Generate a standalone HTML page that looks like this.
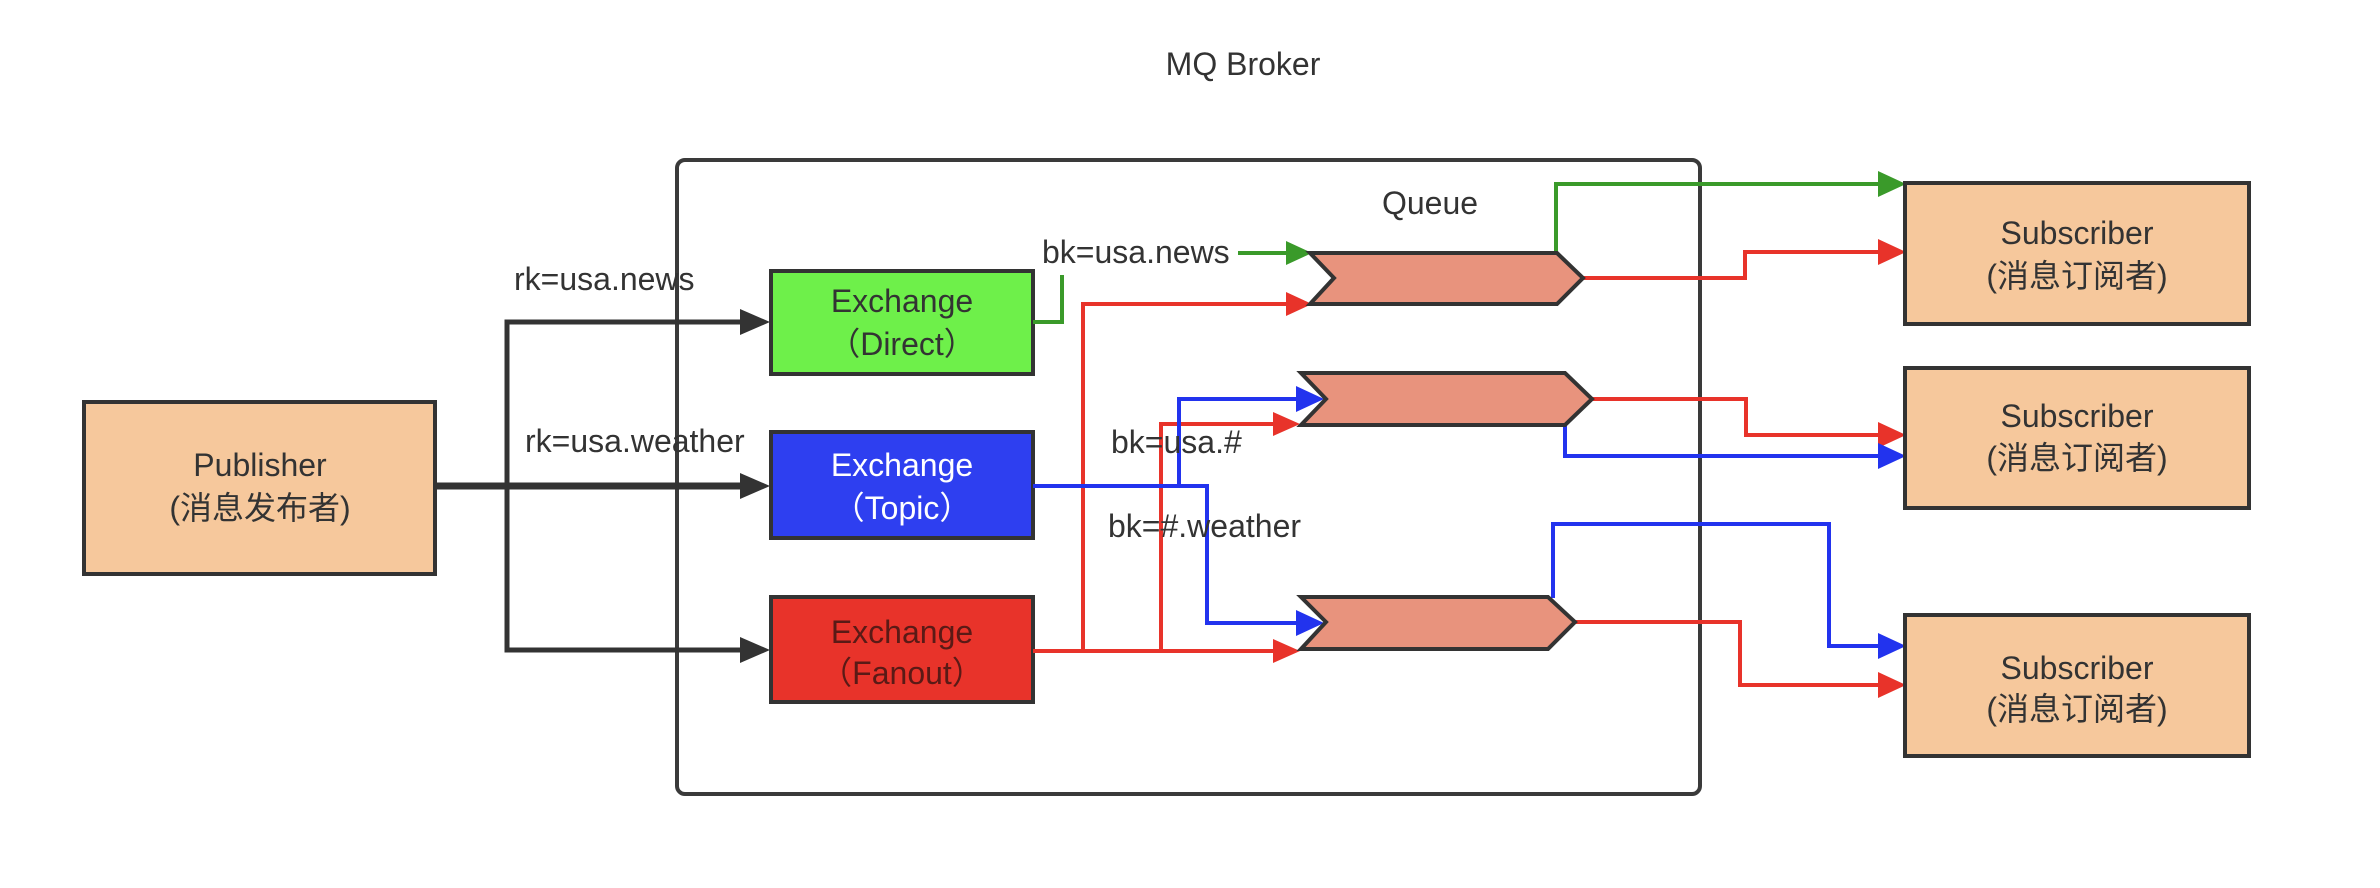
<!DOCTYPE html>
<html><head><meta charset="utf-8"><style>
html,body{margin:0;padding:0;background:#fff;}
svg{display:block;}
text{font-family:"Liberation Sans","Noto Sans CJK SC",sans-serif;}
</style></head><body>
<svg width="2380" height="888" viewBox="0 0 2380 888" xmlns="http://www.w3.org/2000/svg">
<text x="1243" y="75" font-size="32" fill="#333" text-anchor="middle">MQ Broker</text>
<rect x="677" y="160" width="1023" height="634" rx="8" fill="none" stroke="#3a3a3a" stroke-width="4"/>
<text x="1430" y="214" font-size="32" fill="#333" text-anchor="middle">Queue</text>

<!-- black connectors -->
<g stroke="#333" stroke-width="5" fill="none">
<path d="M435,486 H740" stroke-width="7"/>
<path d="M507,486 V322 H740"/>
<path d="M507,486 V650 H740"/>
</g>
<g fill="#333">
<path d="M740,309 L770,322 L740,335 z"/>
<path d="M740,473 L770,486 L740,499 z"/>
<path d="M740,637 L770,650 L740,663 z"/>
</g>
<text x="514" y="290" font-size="32" fill="#333">rk=usa.news</text>
<text x="525" y="452" font-size="32" fill="#333">rk=usa.weather</text>

<!-- publisher -->
<rect x="84" y="402" width="351" height="172" fill="#f6c89c" stroke="#333" stroke-width="4"/>
<text x="260" y="476" font-size="32" fill="#333" text-anchor="middle">Publisher</text>
<text x="260" y="519" font-size="32" fill="#333" text-anchor="middle">(消息发布者)</text>

<!-- exchanges -->
<rect x="771" y="271" width="262" height="103" fill="#6ef04a" stroke="#333" stroke-width="4"/>
<text x="902" y="312" font-size="32" fill="#333" text-anchor="middle">Exchange</text>
<text x="902" y="355" font-size="32" fill="#333" text-anchor="middle">（Direct）</text>
<rect x="771" y="432" width="262" height="106" fill="#2e3ff0" stroke="#333" stroke-width="4"/>
<text x="902" y="476" font-size="32" fill="#fff" text-anchor="middle">Exchange</text>
<text x="902" y="519" font-size="32" fill="#fff" text-anchor="middle">（Topic）</text>
<rect x="771" y="597" width="262" height="105" fill="#e8332a" stroke="#333" stroke-width="4"/>
<text x="902" y="643" font-size="32" fill="#5a1a16" text-anchor="middle">Exchange</text>
<text x="902" y="684" font-size="32" fill="#5a1a16" text-anchor="middle">（Fanout）</text>

<!-- green in -->
<path d="M1033,322 H1062 V275" stroke="#3a9a2a" stroke-width="4" fill="none"/>
<path d="M1238,253 H1288" stroke="#3a9a2a" stroke-width="4" fill="none"/>
<path d="M1286,241 L1312,253 L1286,265 z" fill="#3a9a2a"/>
<text x="1042" y="263" font-size="32" fill="#333">bk=usa.news</text>

<!-- red in -->
<g stroke="#e8332a" stroke-width="4" fill="none">
<path d="M1033,651 H1275"/>
<path d="M1083,651 V304 H1288"/>
<path d="M1161,651 V424 H1275"/>
</g>
<g fill="#e8332a">
<path d="M1286,292 L1312,304 L1286,316 z"/>
<path d="M1273,412 L1300,424 L1273,436 z"/>
<path d="M1273,639 L1300,651 L1273,663 z"/>
</g>

<!-- blue in -->
<g stroke="#2233ee" stroke-width="4" fill="none">
<path d="M1033,486 H1207 V623 H1300"/>
<path d="M1179,486 V399 H1300"/>
</g>
<g fill="#2233ee">
<path d="M1296,386 L1324,399 L1296,412 z"/>
<path d="M1296,610 L1324,623 L1296,636 z"/>
</g>
<text x="1111" y="453" font-size="32" fill="#333">bk=usa.#</text>
<text x="1108" y="537" font-size="32" fill="#333">bk=#.weather</text>

<!-- outputs -->
<g stroke="#3a9a2a" stroke-width="4" fill="none"><path d="M1556,253 V184 H1880"/></g>
<path d="M1878,171 L1906,184 L1878,197 z" fill="#3a9a2a"/>
<g stroke="#e8332a" stroke-width="4" fill="none">
<path d="M1582,278 H1745 V252 H1880"/>
<path d="M1591,399 H1746 V435 H1880"/>
<path d="M1574,622 H1740 V685 H1880"/>
</g>
<g fill="#e8332a">
<path d="M1878,239 L1906,252 L1878,265 z"/>
<path d="M1878,422 L1906,435 L1878,448 z"/>
<path d="M1878,672 L1906,685 L1878,698 z"/>
</g>
<g stroke="#2233ee" stroke-width="4" fill="none">
<path d="M1565,425 V456 H1880"/>
<path d="M1553,598 V524 H1829 V646 H1880"/>
</g>
<g fill="#2233ee">
<path d="M1878,443 L1906,456 L1878,469 z"/>
<path d="M1878,633 L1906,646 L1878,659 z"/>
</g>

<!-- queues -->
<g fill="#e8937d" stroke="#333" stroke-width="4" stroke-linejoin="miter">
<path d="M1310,253 H1557 L1583,278 L1557,304 H1310 L1334,278 z"/>
<path d="M1301,373 H1565 L1592,399 L1565,425 H1301 L1326,399 z"/>
<path d="M1301,597 H1548 L1575,622 L1548,649 H1301 L1326,622 z"/>
</g>

<!-- subscribers -->
<g fill="#f6c89c" stroke="#333" stroke-width="4">
<rect x="1905" y="183" width="344" height="141"/>
<rect x="1905" y="368" width="344" height="140"/>
<rect x="1905" y="615" width="344" height="141"/>
</g>
<g font-size="32" fill="#333" text-anchor="middle">
<text x="2077" y="244">Subscriber</text>
<text x="2077" y="287">(消息订阅者)</text>
<text x="2077" y="427">Subscriber</text>
<text x="2077" y="469">(消息订阅者)</text>
<text x="2077" y="679">Subscriber</text>
<text x="2077" y="720">(消息订阅者)</text>
</g>
</svg>
</body></html>
